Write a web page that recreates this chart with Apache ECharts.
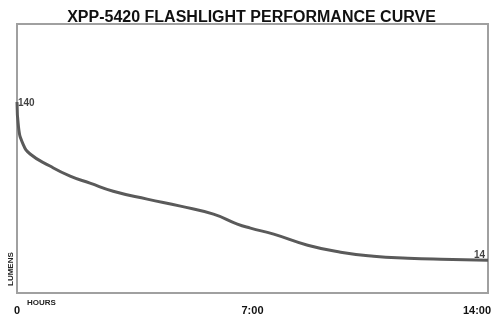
<!DOCTYPE html>
<html><head><meta charset="utf-8">
<script src="https://cdn.jsdelivr.net/npm/echarts@6/dist/echarts.min.js"></script>
<style>html,body{margin:0;padding:0;background:#fff}#c{width:503px;height:316px}</style>
</head><body><div id="c"></div>
<script>
const title = "XPP-5420 FLASHLIGHT PERFORMANCE CURVE";
const hours = [0, 0.045, 0.18, 0.39, 0.98, 1.58, 2.17, 2.86, 3.87, 4.86, 5.84, 6.55, 6.94, 7.63, 8.64, 9.62, 10.6, 11.62, 12.6, 14];
const lumens = [140, 120, 106.5, 98.6, 89, 81, 75.4, 69, 62.7, 57.1, 50.7, 42.8, 39.6, 34.8, 26, 20.5, 17.3, 15.7, 14.8, 14];
const xTicks = {0: "0", 7: "7:00", 14: "14:00"};
const xName = "HOURS", yName = "LUMENS";

const lineData = hours.map((h, i) => [h, lumens[i]]);
const last = hours.length - 1;
const labelData = [
  {value: [hours[0], lumens[0]], label: {position: [1, -4]}},
  {value: [hours[last], lumens[last]], label: {position: [-14, -10]}}
];

const chart = echarts.init(document.getElementById('c'), null, {renderer: 'canvas'});
chart.setOption({
  backgroundColor: '#fff',
  animation: false,
  title: {text: title, left: 'center', top: 5,
    textStyle: {fontFamily: 'Liberation Sans, Arial', fontWeight: 'bold', fontSize: 16, color: '#111'}},
  grid: {left: 17, right: 15, top: 24, bottom: 21, show: true, borderColor: '#a0a0a0', borderWidth: 2, backgroundColor: '#fff'},
  xAxis: {type: 'value', min: 0, max: 14, interval: 7,
    axisLine: {show: true, onZero: false, lineStyle: {color: '#a0a0a0', width: 2}},
    axisTick: {show: false}, splitLine: {show: false},
    axisLabel: {margin: 12,
      formatter: v => v === 14 ? '{r|' + xTicks[v] + '}' : (xTicks[v] !== undefined ? xTicks[v] : ''),
      rich: {r: {fontFamily: 'Liberation Sans, Arial', fontWeight: 'bold', fontSize: 11, color: '#111', padding: [0, 22, 0, 0]}},
      fontFamily: 'Liberation Sans, Arial', fontWeight: 'bold', fontSize: 11, color: '#111'}},
  yAxis: {type: 'value', min: -12, max: 202,
    axisLine: {show: true, onZero: false, lineStyle: {color: '#a0a0a0', width: 2}},
    axisTick: {show: false}, splitLine: {show: false}, axisLabel: {show: false}},
  graphic: [
    {type: 'text', left: 27, top: 299, style: {text: xName, font: 'bold 8px Liberation Sans, Arial', fill: '#222'}},
    {type: 'text', x: 11, y: 286, rotation: Math.PI / 2, style: {text: yName, font: 'bold 8px Liberation Sans, Arial', fill: '#222', align: 'left', verticalAlign: 'middle'}}
  ],
  series: [{
    type: 'line', data: lineData, smooth: 0.5, showSymbol: false, symbol: 'none',
    lineStyle: {color: '#5a5a5a', width: 3}
  }, {
    type: 'scatter', data: labelData, symbolSize: 0, silent: true,
    label: {show: true, formatter: p => String(p.value[1]),
      fontFamily: 'Liberation Sans, Arial', fontWeight: 'bold', fontSize: 10, color: '#111'}
  }]
});
</script></body></html>
